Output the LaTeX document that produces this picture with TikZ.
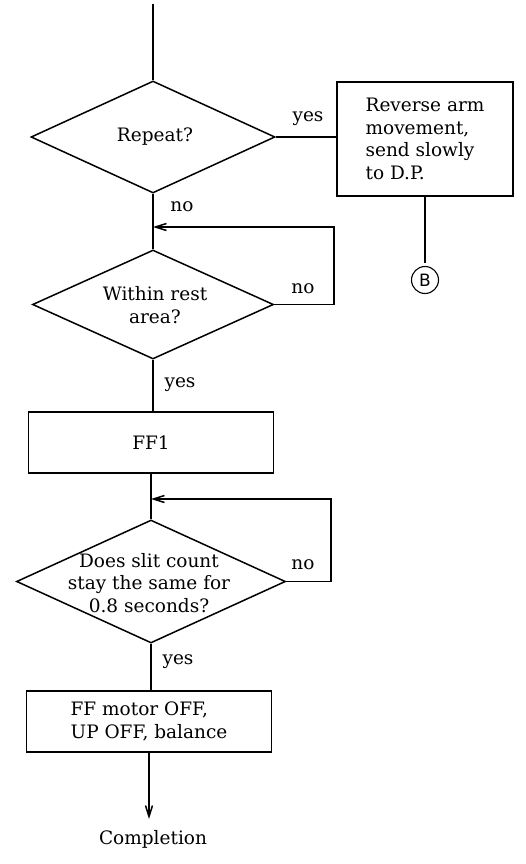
\documentclass[tikz,border=0pt]{standalone}
\usepackage{fontspec}
\setmainfont{DejaVu Serif}
\setsansfont{DejaVu Sans}
\usetikzlibrary{shapes.geometric,arrows.meta}
\begin{document}
\begin{tikzpicture}[x=1pt,y=-1pt,
  every node/.style={font=\fontsize{18.5}{22.5}\selectfont, inner sep=0pt},
  line/.style={line width=1.5pt},
  decision/.style={diamond, draw, line width=1.5pt, aspect=1},
  procbox/.style={rectangle, draw, line width=1.5pt},
  lbl/.style={font=\fontsize{18.5}{22.5}\selectfont},
  arr/.style={line width=1.5pt, -{Straight Barb[length=11pt,width=7pt]}}]
\useasboundingbox (0,0) rectangle (525,864);

% nodes
\coordinate (start) at (153,4);
\node[decision, minimum width=244, minimum height=112] (d1) at (153,137) {};
\node (t1) at (155,137) {Repeat?};
\node[procbox, minimum width=176, minimum height=114, align=left] (b1) at (425,139)
  {Reverse arm\\movement,\\send slowly\\to D.P.};
\node[circle, draw, line width=1.1pt, minimum size=27, font=\fontsize{17}{20}\sffamily] (cb) at (425,280) {B};
\coordinate (bend) at (425,263);

\node[decision, minimum width=241, minimum height=109] (d2) at (153,304.5) {};
\node[align=center] (t2) at (155,305) {Within rest\\area?};
\coordinate (j1) at (153,227);
\coordinate (l1a) at (334,304.5);
\coordinate (l1b) at (334,227);

\node[procbox, minimum width=245, minimum height=61] (ff1) at (151,442.5) {FF1};

\node[decision, minimum width=269, minimum height=123] (d3) at (151,581.5) {};
\node[align=center] (t3) at (149,583) {Does slit count\\stay the same for\\0.8 seconds?};
\coordinate (j2) at (151,499);
\coordinate (l2a) at (331,581.5);
\coordinate (l2b) at (331,499);

\node[procbox, minimum width=245, minimum height=61, align=left] (b3) at (149,721.5)
  {FF motor OFF,\\UP OFF, balance};
\node (comp) at (153,839) {Completion};
\coordinate (arrend) at (149,819);

% connectors
\draw[line] (start) -- (d1.north);
\draw[line] (d1.east) -- (d1.east -| b1.west);
\draw[line] (b1.south) -- (bend);
\draw[line] (d1.south) -- (d2.north);
\draw[arr] (d2.east) -- (l1a) -- (l1b) -- (j1);
\draw[line] (d2.south) -- (d2.south |- ff1.north);
\draw[line] (ff1.south) -- (ff1.south |- d3.north);
\draw[arr] (d3.east) -- (l2a) -- (l2b) -- (j2);
\draw[line] (d3.south) -- (d3.south |- b3.north);
\draw[arr] (b3.south) -- (arrend);

% labels
\node[lbl] (y1) at (308,119) {yes};
\node[lbl] (n1) at (182,207) {no};
\node[lbl] (n2) at (303,289) {no};
\node[lbl] (y2) at (180,385) {yes};
\node[lbl] (n3) at (303,565) {no};
\node[lbl] (y3) at (178,662) {yes};
\end{tikzpicture}
\end{document}
